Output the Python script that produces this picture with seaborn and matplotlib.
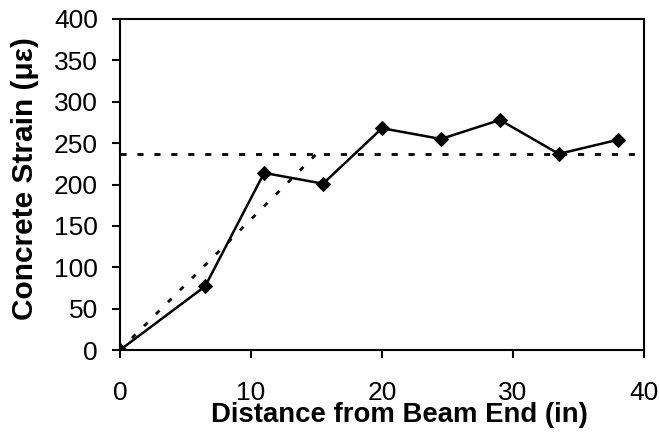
import matplotlib
matplotlib.use("Agg")
import matplotlib.pyplot as plt
import seaborn as sns
import pandas as pd

distance = [0, 6.5, 11.0, 15.5, 20.0, 24.5, 29.0, 33.5, 38.0]
strain = [0, 77, 214, 201, 268, 255, 278, 237, 254]
avg_strain = 237
transfer_x = [0, 15.0]
transfer_y = [0, 237]

sns.set_style("ticks")
plt.rcParams['font.family'] = ['Liberation Sans', 'DejaVu Sans']

fig = plt.figure(figsize=(6.6, 4.43), dpi=100)
ax = fig.add_axes([120 / 660, 93 / 443, 524 / 660, 331 / 443])

df = pd.DataFrame({"x": distance, "y": strain})
sns.lineplot(data=df, x="x", y="y", ax=ax, color="black", linewidth=1.8,
             marker="D", markersize=7.5, markeredgecolor="black", sort=False,
             zorder=3)
ax.plot([0, 40], [avg_strain, avg_strain], color="black", linewidth=2,
        linestyle=(0, (2.2, 3.9)))
ax.plot(transfer_x, transfer_y, color="black", linewidth=2,
        linestyle=(0, (1.8, 4.3)))

ax.set_xlim(0, 40)
ax.set_ylim(0, 400)
ax.set_xticks([0, 10, 20, 30, 40])
ax.set_yticks(range(0, 401, 50))
ax.tick_params(direction="out", length=6, width=1.5, labelsize=19,
               colors="black")
ax.tick_params(axis="x", pad=16)
ax.tick_params(axis="y", pad=10)
for s in ax.spines.values():
    s.set_linewidth(1.5)
    s.set_color("black")
ax.set_xlabel("Distance from Beam End (in)", fontsize=19.8, fontweight="bold",
              color="black")
ax.set_ylabel("Concrete Strain (με)", fontsize=21.5, fontweight="bold",
              color="black")
ax.xaxis.set_label_coords(0.534, -0.158)
ax.yaxis.set_label_coords(-0.155, 0.517)
ax.grid(False)

fig.savefig("out.png", dpi=100)
